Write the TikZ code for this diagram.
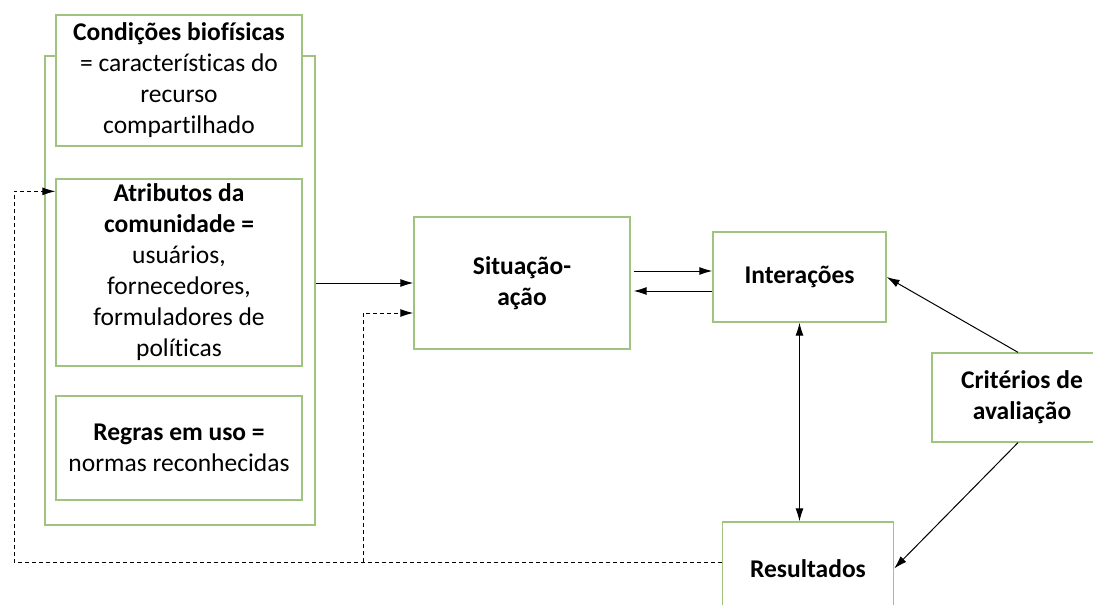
\documentclass[tikz,border=0pt]{standalone}
\usepackage{fontspec}
\setmainfont{Carlito}[Ligatures=NoCommon]
\usetikzlibrary{arrows.meta}
\definecolor{verde}{RGB}{160,196,128}
\tikzset{
  caixa/.style={draw=verde, line width=1.3pt, align=center, inner sep=0pt,
    font=\fontsize{25.5}{31}\selectfont},
  seta/.style={->, line width=1pt},
  tracejada/.style={->, line width=1pt, dash pattern=on 4pt off 3pt},
}
\begin{document}
\begin{tikzpicture}[x=1pt, y=-1pt, >={Latex[length=13pt,width=8pt]}]
\clip (0,0) rectangle (1093,605);
\fill[white] (0,0) rectangle (1093,605);
% contexto
\node[caixa, minimum width=270pt, minimum height=469pt] (contexto) at (180,290.5) {};
\node[caixa, fill=white, minimum width=246pt, minimum height=131pt] (condicoes) at (179,80.5)
  {\textbf{Condições biofísicas}\\= características do\\recurso\\compartilhado};
\node[caixa, minimum width=246pt, minimum height=187pt] (atributos) at (179,272.5)
  {\textbf{Atributos da}\\\textbf{comunidade =}\\usuários,\\fornecedores,\\formuladores de\\políticas};
\node[caixa, minimum width=246pt, minimum height=104pt] (regras) at (179,448)
  {\textbf{Regras em uso =}\\normas reconhecidas};
% arena de acao
\node[caixa, minimum width=216pt, minimum height=132pt] (situacao) at (522,283)
  {\textbf{Situação-}\\\textbf{ação}};
\node[caixa, minimum width=173pt, minimum height=90pt] (interacoes) at (799.5,277)
  {\textbf{Interações}};
\node[caixa, minimum width=180pt, minimum height=89pt] (criterios) at (1022,397.5)
  {\textbf{Critérios de}\\\textbf{avaliação}};
\node[caixa, minimum width=171pt, minimum height=93pt] (resultados) at (808,568.5)
  {\textbf{Resultados}};
\coordinate (retorno) at (14,562);
\coordinate (desvio) at (363,562);
% ligacoes
\draw[seta] (contexto.east |- situacao.west) -- (situacao.west);
\draw[seta] ([xshift=3pt,yshift=12pt]situacao.east) -- ([yshift=12pt]situacao.east -| interacoes.west);
\draw[seta] ([yshift=-8pt]situacao.east -| interacoes.west) -- ([xshift=3pt,yshift=-8pt]situacao.east);
\draw[seta, <->] (interacoes.south) -- (interacoes.south |- resultados.north);
\draw[seta] ([xshift=-4pt]criterios.north) -- (interacoes.east);
\draw[seta] ([xshift=-4pt]criterios.south) -- (resultados.east);
\draw[tracejada] (resultados.west |- retorno) -- (retorno) |- ([yshift=-13pt]atributos.north west);
\draw[tracejada] (desvio) |- ([yshift=-30pt]situacao.west);
\end{tikzpicture}
\end{document}
